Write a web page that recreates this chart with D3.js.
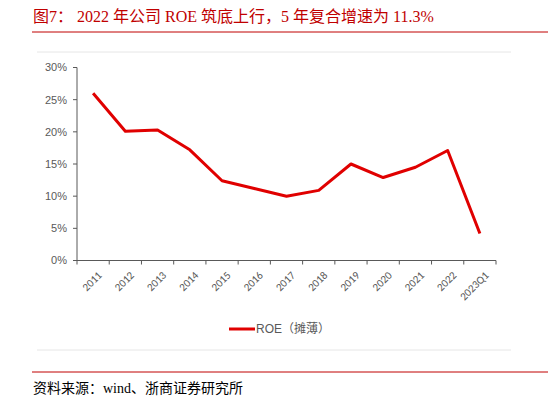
<!DOCTYPE html>
<html><head><meta charset="utf-8">
<script src="https://cdn.jsdelivr.net/npm/d3@7"></script>
<style>body{margin:0;background:#fff}</style></head>
<body><svg id="c" width="548" height="403"></svg>
<script>
const categories=["2011","2012","2013","2014","2015","2016","2017","2018","2019","2020","2021","2022","2023Q1"];
const roe=[26.0,20.1,20.3,17.2,12.4,11.2,10.0,10.9,15.0,12.9,14.5,17.1,4.2];
const yTicks=[0,5,10,15,20,25,30];
const svg=d3.select("#c");
const red="#c00000";
svg.append("text").attr("x",33).attr("y",22).attr("fill",red).attr("font-size",16)
 .attr("font-family","'Liberation Serif','Noto Sans CJK SC'").text("图7：  2022 年公司 ROE 筑底上行，5 年复合增速为 11.3%");
svg.append("line").attr("x1",32).attr("x2",548).attr("y1",32).attr("y2",32).attr("stroke",red).attr("stroke-width",1);
svg.append("line").attr("x1",37).attr("x2",511).attr("y1",52).attr("y2",52).attr("stroke","#e6e6e6");
svg.append("line").attr("x1",37).attr("x2",511).attr("y1",350).attr("y2",350).attr("stroke","#e6e6e6");
svg.append("line").attr("x1",32).attr("x2",548).attr("y1",372).attr("y2",372).attr("stroke",red).attr("stroke-width",1);
svg.append("text").attr("x",33).attr("y",393).attr("fill","#000").attr("font-size",14)
 .attr("font-family","'Liberation Serif','Noto Sans CJK SC'").text("资料来源：wind、浙商证券研究所");
const x=d3.scaleBand().domain(categories).range([77,496]);
const y=d3.scaleLinear().domain([0,30]).range([260.5,67.5]);
const ga=svg.append("g").attr("transform","translate(0,260.5)");
ga.append("line").attr("x1",77).attr("x2",496).attr("stroke","#595959");
const bounds=d3.range(categories.length+1).map(i=>77+i*x.bandwidth());
ga.selectAll(".t").data(bounds).join("line").attr("x1",d=>d).attr("x2",d=>d).attr("y1",0).attr("y2",4).attr("stroke","#595959");
ga.selectAll(".l").data(categories).join("text").attr("font-size",11).attr("fill","#595959").attr("font-family","Carlito,'Liberation Sans',sans-serif")
 .attr("text-anchor","end").attr("transform",d=>`translate(${x(d)+x.bandwidth()/2+4},10) rotate(-45)`).attr("dy","0.7em").text(d=>d);
const gy=svg.append("g");
gy.append("line").attr("x1",77).attr("x2",77).attr("y1",67.5).attr("y2",260.5).attr("stroke","#595959");
gy.selectAll("line.t").data(yTicks).join("line").attr("class","t").attr("x1",73).attr("x2",77).attr("y1",d=>y(d)).attr("y2",d=>y(d)).attr("stroke","#595959");
gy.selectAll("text").data(yTicks).join("text").attr("x",67).attr("y",d=>y(d)).attr("dy","0.35em").attr("text-anchor","end")
 .attr("font-size",11).attr("fill","#595959").attr("font-family","'Liberation Sans',sans-serif").text(d=>d+"%");
const line=d3.line().x((d,i)=>x(categories[i])+x.bandwidth()/2).y(d=>y(d));
svg.append("path").datum(roe).attr("d",line).attr("fill","none").attr("stroke","#e00000").attr("stroke-width",3).attr("stroke-linejoin","round");
svg.append("line").attr("x1",229).attr("x2",255).attr("y1",329).attr("y2",329).attr("stroke","#e00000").attr("stroke-width",3);
svg.append("text").attr("x",256).attr("y",329).attr("dy","0.35em").attr("font-size",12).attr("fill","#595959")
 .attr("font-family","'Liberation Sans','Noto Sans CJK SC'").text("ROE（摊薄）");
</script></body></html>
